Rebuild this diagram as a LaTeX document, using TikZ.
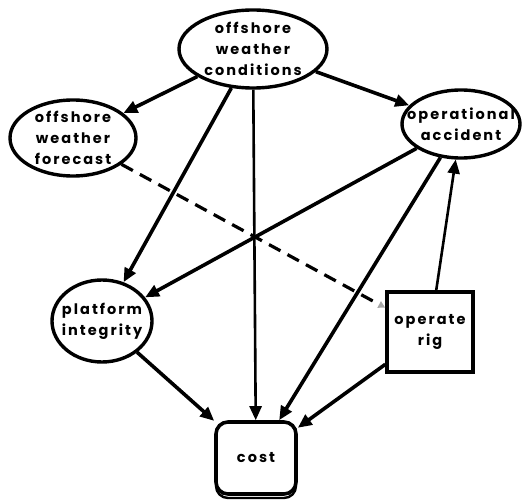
\documentclass[tikz,border=0pt]{standalone}
\usepackage{fontspec}
\setmainfont{Poppins}[LetterSpace=14]
\usepackage{tikz}
\usetikzlibrary{arrows.meta, shapes.geometric, positioning}
\newcommand{\lblfont}{\bfseries\fontsize{14.5}{21}\selectfont}
\tikzset{
  chance/.style={ellipse, draw, line width=3.4pt, inner sep=-16pt, align=center, font=\lblfont},
  decision/.style={rectangle, draw, line width=3.4pt, minimum width=86pt, minimum height=80pt, align=center, font=\lblfont},
  value/.style={rectangle, rounded corners=12pt, draw, fill=white, line width=3.6pt, minimum width=80pt, minimum height=72pt, font=\lblfont,
    preaction={draw, line width=2.4pt, transform canvas={yshift=-4pt}}},
  link/.style={line width=3.6pt, -{Triangle[length=14pt, width=12pt]}},
  thinlink/.style={link, line width=2.6pt},
  infolink/.style={line width=3.2pt, dash pattern=on 13pt off 8pt, -{Triangle[length=7pt, width=7pt, gray!70]}}
}
\begin{document}
\begin{tikzpicture}[x=1pt, y=-1pt]
    \useasboundingbox (0,0) rectangle (522,500);
    % Chance nodes
    \node[chance, minimum width=148pt, minimum height=78pt] (cond) at (253,49) {offshore\\weather\\conditions};
    \node[chance, minimum width=126pt, minimum height=76pt] (fcst) at (73,138) {offshore\\weather\\forecast};
    \node[chance, minimum width=118pt, minimum height=68pt] (acc) at (461,124) {operational\\accident};
    \node[chance, minimum width=100pt, minimum height=82pt] (plat) at (102,321) {platform\\integrity};

    % Decision and value
    \node[decision] (rig) at (430,332) {operate\\rig};
    \node[value] (cost) at (256,458) {cost};

    % Arcs
    \draw[link] (cond) -- (fcst);
    \draw[link] (cond) -- (acc);
    \draw[link] (cond) -- (plat);
    \draw[thinlink] (cond) -- (cost);
    \draw[infolink] (fcst) -- (rig);
    \draw[link] (acc) -- (plat);
    \draw[link] (acc) -- (cost);
    \draw[thinlink] (rig) -- (acc);
    \draw[link] (rig) -- (cost);
    \draw[link] (plat) -- (cost);
\end{tikzpicture}
\end{document}
